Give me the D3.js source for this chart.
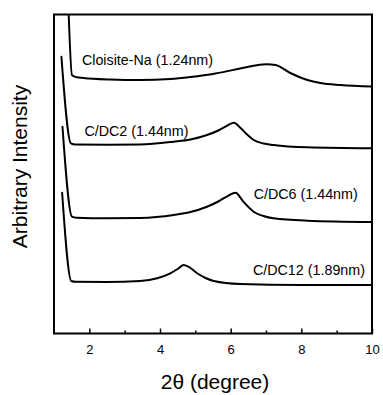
<!DOCTYPE html>
<html>
<head>
<meta charset="utf-8">
<script src="https://cdn.jsdelivr.net/npm/d3@7"></script>
<style>
  html, body { margin: 0; padding: 0; background: #fff; }
  svg { display: block; }
  text { font-family: "Liberation Sans", Arial, sans-serif; fill: #000; }
</style>
</head>
<body>
<script>
// ---- data ----
const seriesNames = ["Cloisite-Na (1.24nm)", "C/DC2 (1.44nm)", "C/DC6 (1.44nm)", "C/DC12 (1.89nm)"];

const xCloisite = [1.41, 1.51, 1.62, 1.83, 2.59, 3.44, 4.29, 4.86, 5.57, 6.27, 6.70, 7.03, 7.27, 7.69, 8.17, 8.54, 9.11, 10];
const yCloisite = [325, 258.7, 257, 256, 254.5, 254, 255, 257, 260.5, 265.5, 268.5, 269.7, 269, 261, 254, 251, 249, 247.5];

const xDC2 = [1.21, 1.48, 1.60, 2.50, 3.44, 4.38, 4.86, 5.33, 5.65, 5.85, 6.09, 6.28, 6.45, 6.65, 6.93, 7.21, 8.17, 10];
const yDC2 = [277.3, 190.7, 189.6, 189.3, 189.5, 192.3, 194.5, 199, 203.5, 207.3, 211.3, 206, 200, 194, 190.5, 189, 186.7, 185.7];

const xDC6 = [1.24, 1.51, 1.63, 2.50, 3.44, 4.39, 4.86, 5.33, 5.65, 5.85, 6.14, 6.36, 6.65, 6.93, 7.21, 8.17, 10];
const yDC6 = [207.3, 117.3, 116.2, 115.7, 116, 119, 122, 127.3, 132.5, 136.7, 141.3, 132.3, 122.3, 118, 115.7, 113.3, 112];

const xDC12 = [1.23, 1.49, 1.61, 2.50, 3.44, 3.92, 4.29, 4.52, 4.67, 4.86, 5.05, 5.29, 5.52, 6.27, 7.97, 10];
const yDC12 = [141.3, 53, 52.2, 52, 53, 55.7, 60.7, 65.5, 69, 66, 60.7, 56, 53, 50, 49, 49];

const labelX = [1.79, 1.86, 6.65, 6.63];
const labelY = [269, 198, 134.7, 59];

const xTicksMajor = [2, 4, 6, 8, 10];
const xTicksMinor = [3, 5, 7, 9];
const xTitle = "2θ (degree)";
const yTitle = "Arbitrary Intensity";

// ---- chart ----
const W = 383, H = 395;
const mLeft = 54, mRight = 372, mTop = 14.5, mBottom = 333.5;

const x = d3.scaleLinear().domain([1, 10]).range([mLeft, mRight]);
const y = d3.scaleLinear().domain([0, 320]).range([334, 14]);

const svg = d3.select("body").append("svg").attr("width", W).attr("height", H);
svg.append("rect").attr("width", W).attr("height", H).attr("fill", "#fff");

svg.append("clipPath").attr("id", "plotclip")
  .append("rect").attr("x", mLeft).attr("y", mTop).attr("width", mRight - mLeft).attr("height", mBottom - mTop);

const series = [
  { xs: xCloisite, ys: yCloisite },
  { xs: xDC2, ys: yDC2 },
  { xs: xDC6, ys: yDC6 },
  { xs: xDC12, ys: yDC12 }
];

const line = d3.line().x(d => x(d[0])).y(d => y(d[1])).curve(d3.curveMonotoneX);

const g = svg.append("g").attr("clip-path", "url(#plotclip)");
series.forEach(s => {
  const pts = s.xs.map((v, i) => [v, s.ys[i]]);
  g.append("path").datum(pts).attr("d", line)
    .attr("fill", "none").attr("stroke", "#000").attr("stroke-width", 2)
    .attr("stroke-linejoin", "round").attr("stroke-linecap", "round");
});

// labels
seriesNames.forEach((name, i) => {
  svg.append("text").attr("x", x(labelX[i])).attr("y", y(labelY[i]))
    .attr("font-size", "14.3px").text(name);
});

// frame
svg.append("rect").attr("x", mLeft).attr("y", mTop).attr("width", mRight - mLeft).attr("height", mBottom - mTop)
  .attr("fill", "none").attr("stroke", "#000").attr("stroke-width", 2);

// bottom axis ticks (inward)
const axisG = svg.append("g").attr("transform", `translate(0,${mBottom})`);
axisG.call(d3.axisBottom(x).tickValues(xTicksMajor).tickSize(-5).tickSizeOuter(0).tickPadding(11).tickFormat(d3.format("d")));
axisG.select(".domain").remove();
axisG.selectAll(".tick line").attr("stroke", "#000").attr("stroke-width", 1.5);
axisG.selectAll(".tick text").attr("font-size", "13px").attr("font-family", "Liberation Sans, Arial, sans-serif").attr("fill", "#000");

const minorG = svg.append("g").attr("transform", `translate(0,${mBottom})`);
minorG.call(d3.axisBottom(x).tickValues(xTicksMinor).tickSize(-3).tickSizeOuter(0).tickFormat(""));
minorG.select(".domain").remove();
minorG.selectAll(".tick line").attr("stroke", "#000").attr("stroke-width", 1.5);

// axis titles
svg.append("text").attr("x", (mLeft + mRight) / 2 + 2).attr("y", 389)
  .attr("text-anchor", "middle").attr("font-size", "21px").text(xTitle);

svg.append("text").attr("transform", `translate(27,166.5) rotate(-90)`)
  .attr("text-anchor", "middle").attr("font-size", "21px").text(yTitle);
</script>
</body>
</html>
